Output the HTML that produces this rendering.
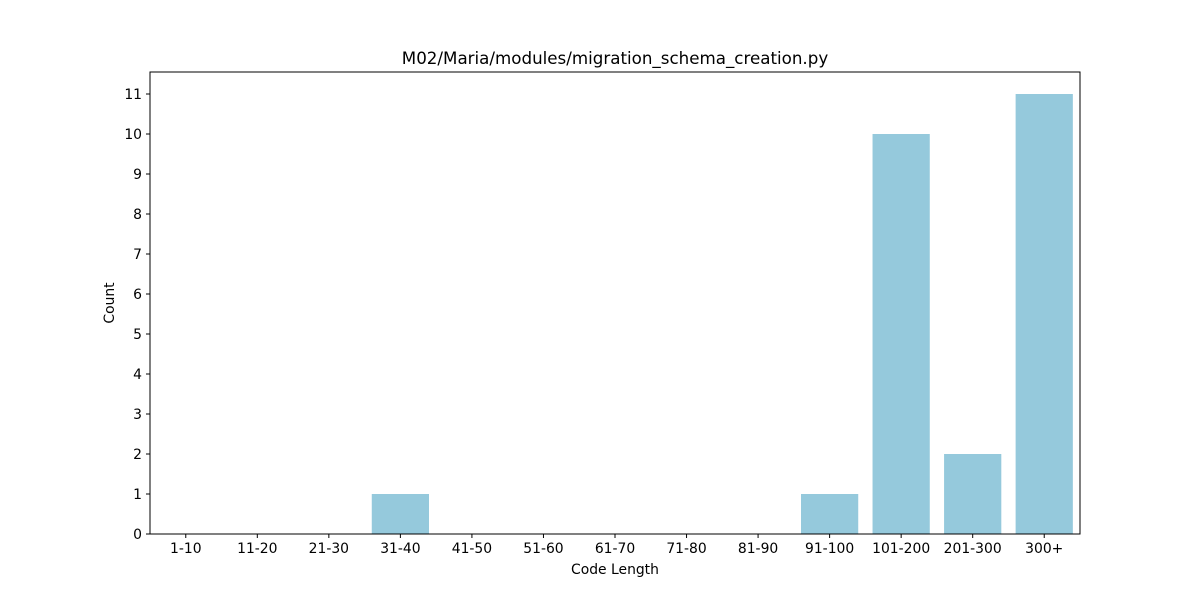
<!DOCTYPE html>
<html><head><meta charset="utf-8"><style>
body{margin:0;background:#fff;}
svg text{font-family:"DejaVu Sans","Liberation Sans",sans-serif;fill:#000;}
</style></head><body>
<svg id="chart" width="1200" height="600"></svg>
<script>
const categories=["1-10","11-20","21-30","31-40","41-50","51-60","61-70","71-80","81-90","91-100","101-200","201-300","300+"];
const counts=[0,0,0,1,0,0,0,0,0,1,10,2,11];
const yTicks=[0,1,2,3,4,5,6,7,8,9,10,11];
const L=150,R=1080,T=72,B=534,yMax=11.55;
const NS="http://www.w3.org/2000/svg";
const svg=document.getElementById('chart');
function el(t,a,p){const e=document.createElementNS(NS,t);for(const k in a)e.setAttribute(k,a[k]);(p||svg).appendChild(e);return e;}
const step=(R-L)/categories.length;
const xc=i=>L+(i+0.5)*step;
const y=v=>B-(v/yMax)*(B-T);
const bars=el('g',{});


counts.forEach((v,i)=>{
  const r=el('rect',{x:xc(i)-step*0.4,y:y(v),width:step*0.8,height:B-y(v),fill:'#95c9dc'},bars);
  
  
});
const frame=el('rect',{x:L,y:T,width:R-L,height:B-T,fill:'none',stroke:'#000','stroke-width':1});


categories.forEach((c,i)=>{
  el('line',{x1:xc(i),x2:xc(i),y1:B,y2:B+4,stroke:'#000'});
  const t=el('text',{x:xc(i),y:B+19,'text-anchor':'middle','font-size':13.9});
  t.textContent=c;
  
  
});
yTicks.forEach(v=>{
  el('line',{x1:L-4,x2:L,y1:y(v),y2:y(v),stroke:'#000'});
  const t=el('text',{x:L-8,y:y(v)+5,'text-anchor':'end','font-size':13.9});
  t.textContent=v;
  
  
});
const xt=el('text',{x:(L+R)/2,y:574,'text-anchor':'middle','font-size':13.9});
xt.textContent='Code Length';


const yt=el('text',{x:0,y:0,'text-anchor':'middle','font-size':13.9,transform:'translate(114,'+((T+B)/2)+') rotate(-90)'});
yt.textContent='Count';


const ti=el('text',{x:(L+R)/2,y:64,'text-anchor':'middle','font-size':16.7});
ti.textContent='M02/Maria/modules/migration_schema_creation.py';


</script>
</body></html>
